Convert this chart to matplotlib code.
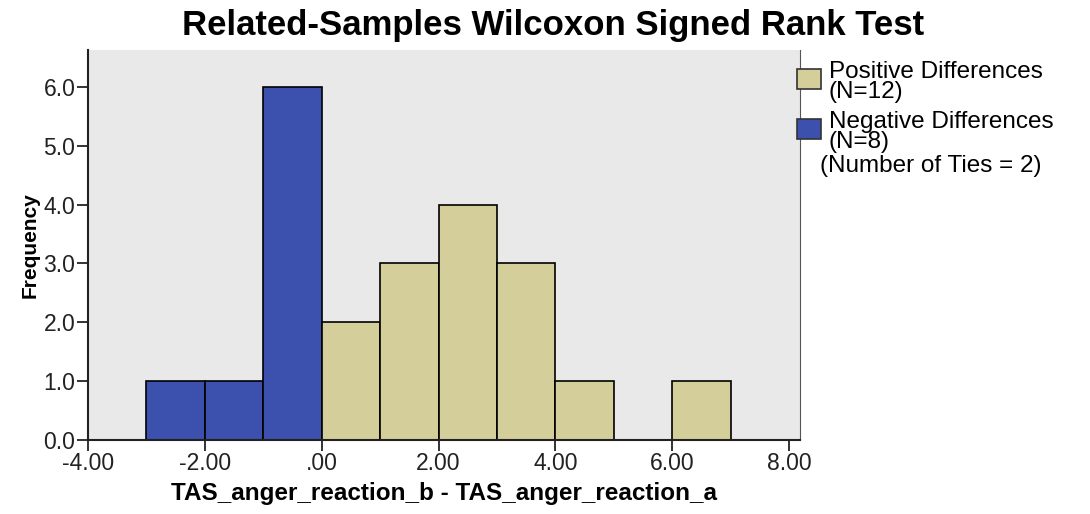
import matplotlib
matplotlib.use("Agg")
import matplotlib.pyplot as plt
from matplotlib.patches import Rectangle

plt.rcParams['font.family'] = ['Liberation Sans', 'DejaVu Sans']

# histogram bins (width 1) and counts
neg_left = [-3, -2, -1]
neg_count = [1, 1, 6]
pos_left = [0, 1, 2, 3, 4, 5, 6]
pos_count = [2, 3, 4, 3, 1, 0, 1]

x_ticks = [-4, -2, 0, 2, 4, 6, 8]
x_ticklabels = ['-4.00', '-2.00', '.00', '2.00', '4.00', '6.00', '8.00']
y_ticks = [0, 1, 2, 3, 4, 5, 6]
y_ticklabels = ['0.0', '1.0', '2.0', '3.0', '4.0', '5.0', '6.0']

pos_color = '#D4CF9A'
neg_color = '#3C51AE'

fig = plt.figure(figsize=(10.9, 5.14), dpi=100)
ax = fig.add_axes([0.0807, 0.144, 0.653, 0.759])
ax.set_facecolor('#E9E9E9')

ax.bar(neg_left, neg_count, width=1, align='edge', color=neg_color,
       edgecolor='black', linewidth=1.2)
ax.bar(pos_left, pos_count, width=1, align='edge', color=pos_color,
       edgecolor='black', linewidth=1.2)

ax.set_xlim(-4, 8.18)
ax.set_ylim(0, 6.63)
ax.set_xticks(x_ticks)
ax.set_xticklabels(x_ticklabels, fontsize=16.5)
ax.set_yticks(y_ticks)
ax.set_yticklabels(y_ticklabels, fontsize=16.5)
ax.tick_params(length=8, width=1.3, colors='#222222', pad=1)
for side in ['left', 'bottom']:
    ax.spines[side].set_linewidth(1.5)
    ax.spines[side].set_color('#222222')
ax.spines['top'].set_visible(False)
ax.spines['right'].set_color('#555555')

ax.set_xlabel('TAS_anger_reaction_b - TAS_anger_reaction_a', fontsize=17.5,
              fontweight='bold', labelpad=5)
ax.set_ylabel('Frequency', fontsize=15, fontweight='bold', labelpad=3)
fig.text(0.507, 1 - 26 / 514, 'Related-Samples Wilcoxon Signed Rank Test',
         fontsize=25, fontweight='bold', ha='center', va='center')

# legend drawn by hand
fig.patches.append(Rectangle((797 / 1090, 1 - 89 / 514), 24 / 1090, 20 / 514,
                             transform=fig.transFigure, facecolor=pos_color,
                             edgecolor='#333333', linewidth=1.2))
fig.patches.append(Rectangle((797 / 1090, 1 - 139 / 514), 24 / 1090, 20 / 514,
                             transform=fig.transFigure, facecolor=neg_color,
                             edgecolor='#333333', linewidth=1.2))
fig.text(829 / 1090, 1 - 61 / 514, 'Positive Differences\n(N=12)', fontsize=17.5,
         va='top', ha='left', linespacing=0.88)
fig.text(829 / 1090, 1 - 111 / 514, 'Negative Differences\n(N=8)', fontsize=17.5,
         va='top', ha='left', linespacing=0.88)
fig.text(820 / 1090, 1 - 155 / 514, '(Number of Ties = 2)', fontsize=17.5,
         va='top', ha='left')

fig.savefig('out.png', dpi=100)
